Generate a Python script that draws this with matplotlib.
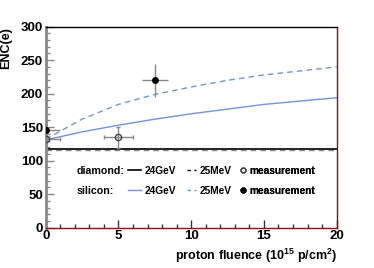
import matplotlib
matplotlib.use("Agg")
import matplotlib.pyplot as plt
from matplotlib.lines import Line2D
from matplotlib.ticker import MultipleLocator

plt.rcParams["font.family"] = ["Liberation Sans", "DejaVu Sans"]
plt.rcParams["font.weight"] = "bold"
plt.rcParams["mathtext.fontset"] = "custom"
plt.rcParams["mathtext.rm"] = "Liberation Sans:bold"
plt.rcParams["mathtext.bf"] = "Liberation Sans:bold"
plt.rcParams["mathtext.default"] = "rm"

# fluence axis (10^15 p/cm^2)
fluence = [0, 2.5, 5, 7.5, 10, 12.5, 15, 17.5, 20]

# model curves
si_24gev = [131, 143, 153, 162, 170, 177, 184, 189, 194]
si_25mev = [132, 162, 184, 199, 210, 220, 228, 234, 240]
dia_24gev = [118, 118, 118, 118, 118, 118, 118, 118, 118]
dia_25mev = [116, 116, 116, 116, 116, 116, 116, 116, 116]

# measurements
dia_meas_x = [0, 5]
dia_meas_y = [132, 135]
dia_meas_xerr = [1, 1]
dia_meas_yerr = [16, 16]

si_meas_x = [0, 7.5]
si_meas_y = [146, 220]
si_meas_xerr = [1, 0.9]
si_meas_yerr = [15, 25]

blue = "#7393dc"
darkred = "#8b1010"

fig = plt.figure(figsize=(3.74, 2.68), dpi=100)
ax = fig.add_axes([0.1222, 0.1504, 0.778, 0.750])

ax.plot(fluence, dia_25mev, color="#888888", lw=1.0, ls=(0, (4, 3)))
ax.plot(fluence, dia_24gev, color="black", lw=1.2)
ax.plot(fluence, si_24gev, color=blue, lw=1.0)
ax.plot(fluence, si_25mev, color=blue, lw=1.0, ls=(0, (4, 3)))

ax.errorbar(dia_meas_x, dia_meas_y, xerr=dia_meas_xerr, yerr=dia_meas_yerr,
            fmt="o", mfc="none", mec="#444444", ms=4.5, mew=1.0,
            ecolor="#888888", elinewidth=1.0, capsize=1.5, zorder=4)
ax.errorbar(si_meas_x, si_meas_y, xerr=si_meas_xerr, yerr=si_meas_yerr,
            fmt="o", color="black", ms=5, mew=0,
            ecolor="#888888", elinewidth=1.0, capsize=1.5, zorder=4)

ax.set_xlim(0, 20)
ax.set_ylim(0, 300)
ax.xaxis.set_major_locator(MultipleLocator(5))
ax.xaxis.set_minor_locator(MultipleLocator(1))
ax.yaxis.set_major_locator(MultipleLocator(50))
ax.yaxis.set_minor_locator(MultipleLocator(10))

ax.tick_params(axis="both", which="both", direction="in", labelsize=9.5)
ax.tick_params(axis="both", which="major", length=6, width=1)
ax.tick_params(axis="both", which="minor", length=3, width=1)
ax.tick_params(axis="y", which="both", color="#888888", pad=2)
ax.tick_params(axis="x", which="both", color="#333333", pad=2)

ax.spines["left"].set_color("#888888")
ax.spines["left"].set_linewidth(2)
ax.spines["bottom"].set_color(darkred)
ax.spines["right"].set_color(darkred)
ax.spines["top"].set_color("black")
for s in ax.spines.values():
    if s is not ax.spines["left"]:
        s.set_linewidth(1)

ax.set_ylabel("ENC(e)", loc="top", fontsize=9, fontweight="bold", labelpad=6)
ax.set_xlabel(r"proton fluence (10$^{15}$ p/cm$^{2}$)", loc="right",
              fontsize=9, fontweight="bold", labelpad=3)

# legend: one block per column so each lines up with the reference
columns = [
    ([Line2D([], [], color="black", lw=1.2), Line2D([], [], color=blue, lw=1.0)],
     ["24GeV", "24GeV"], 0.284, 1.2, 0.38),
    ([Line2D([], [], color="black", lw=1.0, ls=(0, (2.5, 2.5))),
      Line2D([], [], color=blue, lw=1.0, ls=(0, (2.5, 2.5)))],
     ["25MeV", "25MeV"], 0.485, 0.95, 0.3),
    ([Line2D([], [], ls="none", marker="o", mfc="none", mec="#444444", ms=3.5),
      Line2D([], [], ls="none", marker="o", color="black", ms=3.5)],
     ["measurement", "measurement"], 0.665, 0.8, 0.25),
]
for hs, ls, x0, hl, pad in columns:
    leg = ax.legend(hs, ls, frameon=False, fontsize=7.3, loc="center left",
                    bbox_to_anchor=(x0, 0.2325), handlelength=hl,
                    handletextpad=pad, labelspacing=1.0, borderpad=0,
                    borderaxespad=0)
    ax.add_artist(leg)

ax.text(0.1065, 0.282, "diamond:", transform=ax.transAxes, fontsize=7.7,
        fontweight="bold", va="center", ha="left")
ax.text(0.1065, 0.183, "silicon:", transform=ax.transAxes, fontsize=7.7,
        fontweight="bold", va="center", ha="left")

fig.savefig("out.png", dpi=100)
